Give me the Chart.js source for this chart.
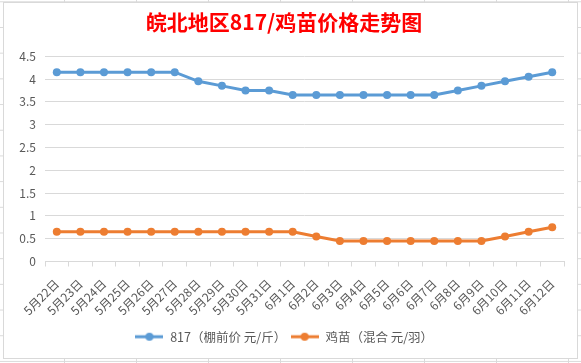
<!DOCTYPE html>
<html>
<head>
<meta charset="utf-8">
<script src="https://cdn.jsdelivr.net/npm/chart.js@4.4.1/dist/chart.umd.min.js"></script>
<style>
  html, body { margin: 0; padding: 0; }
  body {
    width: 581px; height: 363px; overflow: hidden; position: relative;
    background-color: #fff;
    background-image:
      linear-gradient(to right, #dadada 1px, transparent 1px),
      linear-gradient(to bottom, #dadada 1px, transparent 1px);
    background-size: 72px 100%, 100% 25.7px;
    background-position: 64px 0, 0 1.3px;
  }
  #box {
    position: absolute; left: 3px; top: 2px;
    border: 1px solid #d9d9d9; background: #fff;
    width: 573px; height: 355px;
  }
  canvas { display: block; }
</style>
</head>
<body>
<div id="box"><canvas id="chart" width="573" height="355"></canvas></div>
<script>
// 日期
const dates = [
  '5月22日', '5月23日', '5月24日', '5月25日', '5月26日', '5月27日', '5月28日', '5月29日', '5月30日', '5月31日',
  '6月1日', '6月2日', '6月3日', '6月4日', '6月5日', '6月6日', '6月7日', '6月8日', '6月9日', '6月10日', '6月11日', '6月12日'
]
// 817 棚前价 元/斤
const price817 = [4.15, 4.15, 4.15, 4.15, 4.15, 4.15, 3.95, 3.85, 3.75, 3.75,
  3.65, 3.65, 3.65, 3.65, 3.65, 3.65, 3.65, 3.75, 3.85, 3.95, 4.05, 4.15]
// 鸡苗 混合 元/羽
const chickPrice = [0.65, 0.65, 0.65, 0.65, 0.65, 0.65, 0.65, 0.65, 0.65, 0.65,
  0.65, 0.55, 0.45, 0.45, 0.45, 0.45, 0.45, 0.45, 0.45, 0.55, 0.65, 0.75]
const yTicks = [0, 0.5, 1, 1.5, 2, 2.5, 3, 3.5, 4, 4.5]

const COLORS = {
  blue: '#5b9bd5',
  orange: '#ed7d31',
  grid: '#d9d9d9',
  text: '#595959',
  title: '#ff0000',
}
const FONT = "'Noto Sans CJK SC', 'Noto Sans', sans-serif"

// legend icon: line with a dot, like Excel
function legendIcon(color) {
  const c = document.createElement('canvas')
  c.width = 28; c.height = 10
  const g = c.getContext('2d')
  g.strokeStyle = color; g.lineWidth = 3
  g.beginPath(); g.moveTo(0, 5); g.lineTo(28, 5); g.stroke()
  g.fillStyle = color
  g.beginPath(); g.arc(14, 5, 4, 0, Math.PI * 2); g.fill()
  return c
}
const icons = [legendIcon(COLORS.blue), legendIcon(COLORS.orange)]

new Chart(document.getElementById('chart'), {
  type: 'line',
  data: {
    labels: dates,
    datasets: [
      {
        label: '817（棚前价 元/斤）',
        data: price817,
        borderColor: COLORS.blue,
        backgroundColor: COLORS.blue,
        borderWidth: 3,
        pointRadius: 4,
        pointBorderWidth: 0,
        tension: 0,
      },
      {
        label: '鸡苗（混合 元/羽）',
        data: chickPrice,
        borderColor: COLORS.orange,
        backgroundColor: COLORS.orange,
        borderWidth: 3,
        pointRadius: 4,
        pointBorderWidth: 0,
        tension: 0,
      },
    ]
  },
  options: {
    responsive: false,
    animation: false,
    layout: { padding: { left: 0, right: 13, top: 0, bottom: 5 } },
    plugins: {
      title: {
        display: true,
        text: '皖北地区817/鸡苗价格走势图',
        color: COLORS.title,
        font: { family: FONT, size: 21, weight: 'bold' },
        padding: { top: 6, bottom: 22 },
      },
      legend: {
        position: 'bottom',
        labels: {
          color: COLORS.text,
          font: { family: FONT, size: 12.5 },
          usePointStyle: true,
          pointStyleWidth: 29,
          padding: 4,
          generateLabels: chart => {
            const items = Chart.defaults.plugins.legend.labels.generateLabels(chart)
            items.forEach((it, i) => { it.pointStyle = icons[i] })
            return items
          },
        },
      },
      tooltip: { enabled: false },
    },
    scales: {
      x: {
        offset: true,
        grid: { display: true, drawOnChartArea: false, drawTicks: true, tickLength: 5, color: COLORS.grid, offset: true },
        border: { color: COLORS.grid },
        ticks: { color: COLORS.text, font: { family: FONT, size: 12 }, minRotation: 45, maxRotation: 45, autoSkip: false, padding: 10 },
        afterFit: s => { s.height = 65 },
      },
      y: {
        min: 0,
        max: 4.5,
        afterBuildTicks: s => { s.ticks = yTicks.map(v => ({ value: v })) },
        grid: { color: COLORS.grid, drawTicks: false },
        border: { display: false },
        ticks: { color: COLORS.text, font: { family: FONT, size: 12 }, padding: 9, callback: v => String(v) },
        afterFit: s => { s.width = 41 },
      },
    },
  },
})
</script>
</body>
</html>
